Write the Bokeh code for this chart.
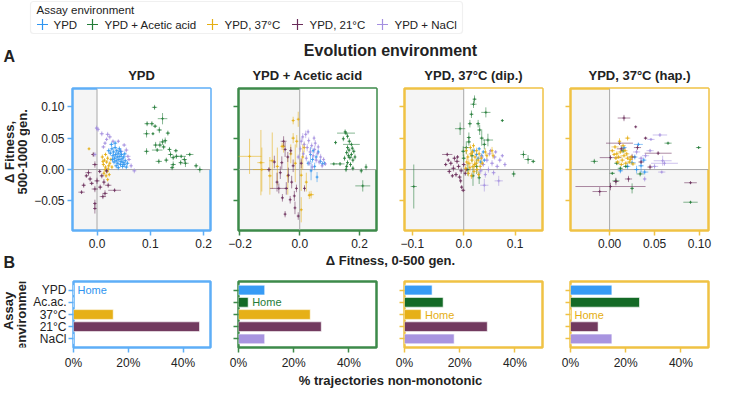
from bokeh.plotting import figure
from bokeh.models import Range1d, FixedTicker, Span, ColumnDataSource, BoxAnnotation
from bokeh.layouts import column, row
from bokeh.embed import file_html
from bokeh.resources import INLINE
from bokeh.core.properties import value
import math

FONT = "Liberation Sans"
INK = "#222222"

# ---------------- data ----------------
ASSAYS = ["YPD", "YPD + Acetic acid", "YPD, 37°C", "YPD, 21°C", "YPD + NaCl"]
ASSAY_SHORT = ["YPD", "Ac.ac.", "37°C", "21°C", "NaCl"]
PANEL_TITLES = ["YPD", "YPD + Acetic acid", "YPD, 37°C (dip.)", "YPD, 37°C (hap.)"]
HOME_INDEX = [0, 1, 2, 2]

POINT_COLORS = ["#2f95f0", "#237c38", "#e5ae12", "#6a2c5a", "#a48fe0"]
BAR_COLORS = ["#379bf5", "#146a26", "#e6b017", "#723a5f", "#a894e0"]
FRAME_COLORS = ["#5eaef7", "#3d8a4a", "#f0c244", "#f0c244"]

X_RANGES = [(-0.046, 0.213), (-0.205, 0.257), (-0.115, 0.153), (-0.0435, 0.11)]
Y_RANGE = (-0.097, 0.129)
X_TICKS = [[0, 0.1, 0.2], [-0.2, 0, 0.2], [-0.1, 0, 0.1], [0, 0.05, 0.1]]
X_TICK_LABELS = [["0.0", "0.1", "0.2"], ["\u22120.2", "0.0", "0.2"],
                 ["\u22120.1", "0.0", "0.1"], ["0.00", "0.05", "0.10"]]
Y_TICKS = [-0.05, 0, 0.05, 0.1]
Y_TICK_LABELS = ["\u22120.05", "0.00", "0.05", "0.10"]

# % trajectories non-monotonic, per evolution env, in assay-env order
NONMONO_YPD = [0, 0, 14.5, 46, 0]
NONMONO_AC = [9.5, 3.5, 26, 30, 9.5]
NONMONO_DIP = [10, 14, 6, 30, 18]
NONMONO_HAP = [15, 25, 0, 10, 15]
BAR_TICKS = [0, 20, 40]
BAR_TICK_LABELS = ["0%", "20%", "40%"]

# (dFit 0-500, dFit 500-1000, err x, err y)
P1_YPD = [(0.022, 0.030, .004, .004), (0.025, 0.026, .004, .004), (0.028, 0.033, .004, .004), (0.030, 0.022, .004, .004),
          (0.031, 0.028, .004, .004), (0.033, 0.018, .004, .004), (0.034, 0.035, .004, .004), (0.035, 0.024, .005, .004),
          (0.036, 0.014, .004, .004), (0.037, 0.030, .004, .004), (0.038, 0.020, .004, .004), (0.039, 0.010, .004, .004),
          (0.040, 0.026, .004, .004), (0.041, 0.016, .004, .004), (0.042, 0.033, .004, .004), (0.043, 0.021, .005, .004),
          (0.044, 0.008, .004, .004), (0.045, 0.013, .004, .004), (0.046, 0.024, .004, .004), (0.047, 0.017, .004, .004),
          (0.048, 0.005, .004, .004), (0.049, 0.011, .004, .004), (0.050, 0.020, .004, .004), (0.051, 0.008, .004, .004),
          (0.053, 0.014, .004, .004), (0.055, 0.004, .004, .004), (0.057, 0.010, .004, .004), (0.027, 0.040, .004, .004),
          (0.032, 0.012, .004, .004), (0.036, 0.006, .004, .004), (0.040, 0.003, .004, .004), (0.044, 0.029, .004, .004),
          (0.052, 0.025, .004, .004), (0.029, 0.016, .004, .004), (0.034, 0.042, .004, .004)]
P1_AC = [(0.108, 0.099, .005, .004), (0.123, 0.081, .009, .009), (0.094, 0.073, .005, .004), (0.103, 0.073, .004, .004),
         (0.109, 0.069, .004, .003), (0.093, 0.057, .006, .006), (0.105, 0.057, .002, .002), (0.133, 0.058, .004, .004),
         (0.117, 0.063, .005, .005), (0.123, 0.044, .006, .005), (0.118, 0.039, .004, .004), (0.125, 0.036, .004, .004),
         (0.110, 0.039, .005, .005), (0.093, 0.029, .005, .005), (0.113, 0.031, .010, .003), (0.136, 0.032, .004, .004),
         (0.138, 0.024, .005, .005), (0.143, 0.019, .004, .004), (0.149, 0.021, .005, .004), (0.158, 0.021, .009, .003),
         (0.164, 0.016, .005, .005), (0.174, 0.024, .007, .003), (0.143, 0.008, .005, .005), (0.141, 0.003, .004, .004),
         (0.166, 0.010, .006, .006), (0.186, 0.006, .004, .004), (0.193, 0.000, .005, .005), (0.116, 0.013, .006, .004),
         (0.128, 0.046, .004, .005), (0.148, 0.030, .004, .003), (0.130, 0.015, .004, .004), (0.157, 0.011, .004, .004)]
P1_37 = [(0.010, 0.020, .003, .004), (0.014, 0.015, .002, .003), (0.012, 0.008, .003, .004), (0.016, 0.004, .002, .003),
         (0.018, 0.012, .003, .003), (0.020, 0.018, .002, .004), (0.022, 0.006, .003, .003), (0.015, 0.000, .002, .004),
         (0.019, -0.003, .003, .003), (0.024, 0.010, .002, .003), (0.013, -0.006, .002, .004), (0.017, -0.010, .002, .003),
         (0.021, 0.001, .002, .003), (0.026, 0.016, .002, .003), (0.011, 0.013, .002, .003), (0.023, -0.008, .002, .003),
         (-0.015, 0.033, .002, .002), (0.016, 0.024, .003, .003), (0.028, 0.004, .002, .003), (0.020, -0.016, .002, .003)]
P1_21 = [(-0.007, 0.024, .004, .004), (-0.004, 0.008, .005, .005), (-0.016, -0.005, .006, .005), (-0.013, -0.015, .004, .004),
         (0.000, -0.018, .005, .005), (0.009, -0.010, .004, .004), (0.021, -0.025, .006, .004), (-0.025, -0.025, .004, .004),
         (-0.004, -0.031, .006, .005), (-0.029, -0.036, .006, .003), (0.015, -0.038, .005, .005), (0.033, -0.033, .012, .003),
         (0.011, -0.043, .006, .004), (-0.004, -0.054, .003, .006), (-0.004, -0.062, .003, .008), (0.005, -0.003, .003, .003),
         (-0.010, -0.022, .004, .003), (0.006, -0.028, .004, .004), (0.018, -0.002, .003, .004), (-0.020, -0.010, .003, .003),
         (0.013, -0.020, .003, .005)]
P1_NACL = [(-0.001, 0.066, .003, .004), (0.009, 0.057, .004, .004), (0.020, 0.056, .004, .004), (0.015, 0.042, .003, .003),
           (0.045, 0.029, .005, .004), (0.058, 0.021, .005, .003), (0.070, -0.002, .004, .004), (0.012, 0.036, .004, .003),
           (-0.004, 0.024, .003, .004), (0.051, 0.039, .004, .003), (0.060, 0.016, .004, .003), (0.024, 0.052, .004, .004),
           (0.018, 0.048, .003, .003), (0.002, 0.064, .003, .004), (0.030, 0.045, .003, .003), (0.055, 0.031, .004, .004),
           (0.064, 0.006, .003, .004), (0.040, 0.045, .003, .003)]

P2_YPD = [(0.036, 0.024, .004, .012), (0.043, 0.016, .005, .005), (0.038, -0.002, .003, .015), (0.069, 0.013, .004, .004),
          (0.076, 0.009, .004, .004), (0.055, 0.020, .004, .005), (0.028, 0.010, .004, .004), (0.050, 0.005, .003, .006),
          (0.062, 0.028, .004, .004), (0.045, 0.030, .004, .004), (0.083, 0.010, .004, .003), (0.058, -0.012, .003, .008)]
P2_AC = [(0.155, 0.058, .030, .003), (0.160, 0.053, .004, .004), (0.146, 0.049, .004, .004), (0.166, 0.045, .006, .005),
         (0.173, 0.040, .028, .003), (0.160, 0.035, .004, .004), (0.181, 0.029, .005, .004), (0.157, 0.027, .004, .004),
         (0.173, 0.024, .004, .004), (0.168, 0.019, .008, .004), (0.178, 0.015, .004, .004), (0.160, 0.011, .005, .004),
         (0.135, 0.009, .015, .003), (0.114, 0.009, .012, .002), (0.157, 0.005, .004, .004), (0.178, 0.002, .004, .004),
         (0.206, -0.002, .005, .004), (0.222, 0.004, .004, .005), (0.211, -0.026, .025, .009), (0.152, 0.060, .003, .004),
         (0.165, 0.031, .004, .004), (0.170, 0.008, .004, .004), (0.150, 0.018, .004, .004), (0.185, 0.020, .003, .004),
         (0.163, 0.022, .004, .004), (0.176, 0.034, .004, .004), (0.120, 0.043, .004, .003), (0.155, 0.000, .004, .004)]
P2_37 = [(-0.168, 0.021, .040, .028), (-0.127, 0.000, .030, .035), (-0.130, 0.011, .012, .052), (-0.092, 0.014, .010, .045),
         (-0.054, 0.037, .006, .010), (-0.022, 0.050, .005, .008), (-0.010, 0.045, .005, .010), (0.005, -0.009, .004, .025),
         (0.022, -0.020, .004, .015), (0.038, -0.040, .010, .006), (-0.059, 0.037, .005, .006), (-0.022, 0.078, .004, .006),
         (-0.005, 0.080, .004, .012), (0.005, -0.064, .004, .020), (0.032, -0.041, .004, .006), (-0.075, 0.005, .005, .030),
         (-0.040, -0.010, .004, .030), (-0.015, 0.010, .005, .030), (0.010, 0.020, .004, .020), (-0.100, -0.010, .006, .030),
         (-0.030, 0.025, .004, .015), (0.015, 0.035, .004, .008)]
P2_21 = [(-0.054, 0.045, .010, .008), (-0.049, 0.032, .004, .012), (-0.060, 0.011, .004, .010), (-0.103, 0.000, .006, .004),
         (-0.076, -0.020, .004, .015), (-0.070, -0.030, .030, .008), (-0.038, -0.009, .004, .012), (-0.022, 0.006, .004, .010),
         (-0.027, -0.020, .004, .010), (-0.011, -0.030, .004, .006), (-0.032, -0.048, .003, .006), (-0.016, -0.061, .003, .010),
         (-0.049, -0.071, .003, .005), (-0.005, -0.074, .003, .006), (0.016, -0.030, .004, .005), (-0.085, 0.012, .005, .010),
         (-0.040, 0.020, .004, .008), (-0.065, -0.005, .004, .010), (-0.030, 0.030, .004, .006), (-0.045, -0.030, .005, .010),
         (0.005, 0.010, .004, .008), (-0.018, -0.042, .003, .008), (-0.058, -0.045, .004, .006)]
P2_NACL = [(0.005, 0.045, .004, .006), (0.010, 0.052, .004, .006), (0.015, 0.040, .004, .005), (0.020, 0.056, .004, .006),
           (0.025, 0.035, .005, .006), (0.030, 0.046, .004, .005), (0.035, 0.028, .005, .006), (0.040, 0.038, .004, .005),
           (0.045, 0.022, .004, .005), (0.050, 0.032, .004, .006), (0.055, 0.015, .005, .005), (0.060, 0.026, .004, .005),
           (0.065, 0.012, .004, .004), (0.070, 0.020, .004, .005), (0.075, 0.006, .004, .004), (0.080, 0.016, .003, .004),
           (0.012, 0.025, .004, .005), (0.022, 0.018, .004, .005), (0.032, 0.010, .004, .004), (0.042, 0.004, .004, .005),
           (0.052, 0.042, .004, .005), (0.062, 0.036, .003, .004), (0.002, 0.033, .003, .005), (0.086, 0.009, .003, .003),
           (0.028, 0.060, .003, .004), (0.048, 0.050, .003, .004), (-0.005, 0.020, .003, .004)]

P3_YPD = [(0.020, 0.030, .003, .004), (0.025, 0.024, .003, .004), (0.030, 0.033, .003, .003), (0.035, 0.022, .003, .004),
          (0.038, 0.028, .003, .003), (0.028, 0.018, .003, .003), (0.033, 0.012, .003, .004), (0.040, 0.015, .003, .003)]
P3_AC = [(0.021, 0.112, .004, .006), (0.019, 0.104, .006, .006), (0.015, 0.088, .004, .006), (0.043, 0.091, .009, .008),
         (-0.007, 0.065, .010, .010), (0.012, 0.073, .004, .006), (0.028, 0.073, .004, .006), (0.031, 0.063, .005, .008),
         (0.047, 0.047, .010, .010), (0.010, 0.051, .004, .008), (0.010, 0.044, .004, .006), (-0.001, 0.029, .004, .008),
         (0.016, 0.022, .004, .010), (0.000, 0.018, .004, .006), (0.018, -0.010, .003, .016), (0.030, -0.013, .003, .010),
         (0.075, 0.078, .002, .002), (0.116, 0.024, .006, .006), (0.125, 0.016, .007, .007), (0.135, 0.013, .004, .003),
         (0.097, -0.007, .004, .005), (-0.097, -0.027, .006, .035), (0.035, 0.050, .004, .012), (0.005, 0.035, .006, .010),
         (0.025, 0.005, .004, .012), (0.040, 0.040, .004, .008), (0.008, 0.000, .004, .010)]
P3_37 = [(0.005, 0.030, .003, .006), (0.008, 0.020, .003, .005), (0.010, 0.010, .004, .006), (0.012, 0.003, .003, .006),
         (0.014, 0.025, .004, .005), (0.016, 0.015, .003, .006), (0.018, 0.005, .004, .005), (0.020, -0.003, .003, .005),
         (0.022, 0.020, .003, .006), (0.024, 0.010, .004, .005), (0.026, 0.000, .003, .006), (0.028, 0.015, .003, .005),
         (0.030, 0.025, .003, .005), (0.032, 0.005, .003, .005), (0.006, 0.012, .003, .006), (0.009, -0.006, .003, .005),
         (0.013, 0.035, .003, .005), (0.017, 0.028, .003, .005), (0.021, 0.008, .003, .006), (0.025, 0.030, .003, .005),
         (0.034, 0.018, .003, .005), (0.004, 0.002, .003, .006), (0.019, 0.038, .003, .004), (0.015, -0.010, .003, .005),
         (0.042, 0.028, .002, .006), (0.045, 0.022, .002, .005), (0.055, 0.030, .002, .006), (0.057, 0.022, .002, .005),
         (0.029, -0.008, .003, .005), (0.036, 0.010, .003, .004)]
P3_21 = [(-0.032, 0.024, .010, .003), (-0.013, 0.013, .005, .004), (-0.025, 0.010, .004, .004), (-0.020, 0.002, .005, .005),
         (-0.010, 0.005, .004, .004), (-0.005, -0.002, .004, .005), (-0.015, -0.008, .004, .004), (-0.028, -0.003, .004, .004),
         (0.000, 0.008, .004, .004), (-0.008, -0.012, .004, .004), (-0.004, -0.028, .003, .003), (-0.001, -0.033, .004, .003),
         (-0.018, 0.018, .004, .004), (0.003, -0.006, .003, .004), (-0.012, 0.020, .003, .003), (-0.022, -0.010, .003, .003),
         (0.005, 0.000, .003, .003), (-0.030, 0.015, .003, .003), (-0.006, -0.018, .003, .004), (-0.035, 0.008, .003, .003)]
P3_NACL = [(0.040, -0.025, .008, .010), (0.068, -0.018, .008, .008), (0.035, 0.020, .004, .005), (0.045, 0.015, .004, .004),
           (0.050, 0.025, .004, .004), (0.055, 0.010, .004, .005), (0.060, 0.020, .004, .004), (0.065, 0.005, .004, .004),
           (0.070, 0.015, .004, .004), (0.075, 0.022, .003, .003), (0.048, 0.000, .004, .005), (0.058, -0.005, .004, .004),
           (0.038, 0.008, .004, .004), (0.042, -0.008, .003, .005), (0.052, 0.030, .003, .003), (0.062, 0.028, .003, .003),
           (0.080, 0.008, .003, .004), (0.033, -0.002, .004, .005)]

P4_YPD = [(0.016, 0.035, .003, .003), (0.032, 0.040, .005, .003), (0.025, 0.011, .004, .004), (0.035, 0.006, .003, .010),
          (0.039, -0.004, .004, .004), (0.028, 0.020, .003, .004), (0.020, 0.005, .003, .005), (0.012, -0.002, .003, .004),
          (0.038, 0.015, .003, .004), (0.030, 0.000, .003, .006)]
P4_AC = [(-0.017, 0.013, .004, .004), (0.065, 0.042, .004, .002), (0.099, 0.035, .003, .002), (0.007, -0.018, .004, .004),
         (0.025, -0.030, .002, .008), (0.034, -0.007, .004, .004), (0.090, -0.052, .008, .002), (0.003, -0.006, .003, .002),
         (0.012, 0.002, .003, .003), (0.018, 0.005, .003, .003), (0.015, 0.030, .003, .004), (0.008, 0.010, .003, .003)]
P4_37 = [(0.003, 0.030, .003, .003), (0.006, 0.036, .004, .003), (0.008, 0.025, .003, .004), (0.010, 0.020, .004, .003),
         (0.012, 0.028, .003, .003), (0.014, 0.015, .003, .004), (0.016, 0.022, .004, .003), (0.018, 0.010, .003, .003),
         (0.020, 0.050, .003, .004), (0.020, 0.018, .003, .003), (0.022, 0.012, .003, .003), (0.024, 0.020, .003, .003),
         (0.011, 0.045, .002, .005), (0.013, 0.008, .003, .003), (0.017, 0.030, .003, .003), (0.009, 0.012, .003, .003),
         (0.026, 0.009, .003, .003), (0.015, 0.038, .003, .003), (0.007, 0.018, .002, .003), (0.019, 0.025, .003, .003),
         (0.005, 0.024, .002, .003), (0.023, 0.016, .003, .003)]
P4_21 = [(0.016, 0.082, .007, .005), (0.029, 0.068, .001, .001), (0.011, 0.042, .015, .003), (0.013, 0.033, .005, .005),
         (0.054, 0.026, .015, .003), (0.001, 0.019, .012, .004), (0.045, 0.004, .003, .004), (0.021, -0.015, .004, .005),
         (0.007, -0.019, .003, .006), (0.001, -0.027, .039, .006), (-0.011, -0.035, .008, .007), (0.090, -0.021, .007, .002),
         (0.031, 0.035, .004, .004), (0.040, 0.050, .002, .002), (0.025, 0.020, .004, .005), (0.035, 0.012, .003, .003)]
P4_NACL = [(0.056, 0.055, .008, .003), (0.046, 0.048, .004, .002), (0.059, 0.014, .010, .008), (0.061, 0.010, .015, .004),
           (0.039, -0.015, .002, .004), (0.030, 0.028, .004, .004), (0.058, -0.004, .004, .002), (0.040, 0.022, .004, .004),
           (0.050, 0.005, .004, .004), (0.035, 0.018, .003, .003), (0.045, 0.030, .004, .003)]

PANEL_POINTS = [[P1_YPD, P1_AC, P1_37, P1_21, P1_NACL],
                [P2_YPD, P2_AC, P2_37, P2_21, P2_NACL],
                [P3_YPD, P3_AC, P3_37, P3_21, P3_NACL],
                [P4_YPD, P4_AC, P4_37, P4_21, P4_NACL]]
PANEL_BARS = [NONMONO_YPD, NONMONO_AC, NONMONO_DIP, NONMONO_HAP]

# ---------------- layout constants (pixels) ----------------
TOTAL_W = 715
FRAME_W = 138
YT_W = 30                      # strip holding rotated y titles
LEFTS = [42, 14, 14, 14]
RIGHTS = [14, 14, 14, 7]
FRAME_X = [72, 238, 404, 570]
HEADER_H = 84
SC_H, SC_TOP, SC_BOT = 168, 4, 22
XT_H = 20
BAR_H, BAR_TOP, BAR_BOT = 100, 9, 20
BOT_H = 16


def base_fig(w, h, xr, yr, left=0, right=0, top=0, bottom=0):
    p = figure(width=w, height=h, x_range=xr, y_range=yr, output_backend="svg",
               toolbar_location=None, min_border_left=left, min_border_right=right,
               min_border_top=top, min_border_bottom=bottom)
    p.grid.visible = False
    p.border_fill_color = "white"
    return p


def text_strip(w, h):
    p = base_fig(w, h, Range1d(0, w), Range1d(h, 0))
    p.axis.visible = False
    p.outline_line_color = None
    p.background_fill_color = "white"
    return p


def style_axis(ax, color):
    ax.axis_line_color = None
    ax.major_tick_line_color = color
    ax.major_tick_line_width = 1.5
    ax.major_tick_out = 5
    ax.major_tick_in = 0
    ax.minor_tick_line_color = None
    ax.major_label_text_font = FONT
    ax.major_label_text_font_size = "12px"
    ax.major_label_text_color = INK
    ax.major_label_standoff = 3


def add_points(p, pts, color):
    src = ColumnDataSource(dict(
        x=[t[0] for t in pts], y=[t[1] for t in pts],
        xl=[t[0] - t[2] for t in pts], xr=[t[0] + t[2] for t in pts],
        yb=[t[1] - t[3] for t in pts], yt=[t[1] + t[3] for t in pts]))
    p.segment(x0="xl", y0="y", x1="xr", y1="y", source=src, line_color=color,
              line_width=1.0, line_alpha=0.55)
    p.segment(x0="x", y0="yb", x1="x", y1="yt", source=src, line_color=color,
              line_width=1.0, line_alpha=0.55)
    p.scatter(x="x", y="y", source=src, marker="cross", size=3, line_color=color,
              line_width=1.0, line_alpha=0.7)


def bold_text(p, x, y, t, size="13px", align="center", angle=0.0):
    p.text(x=[x], y=[y], text=[t], text_font=value(FONT), text_font_size=size,
           text_font_style="bold", text_color=INK, text_align=align,
           text_baseline="middle", angle=angle)


# ---------------- header ----------------
header = text_strip(TOTAL_W, HEADER_H)
header.add_layout(BoxAnnotation(left=30, right=462, top=1, bottom=33, fill_color="white",
                                fill_alpha=1, line_color="#cccccc", line_width=1.2,
                                border_radius=3, level="underlay"))
header.text(x=[36], y=[9.5], text=["Assay environment"], text_font=value(FONT),
            text_font_size="11.5px", text_color=INK, text_baseline="middle")
LEG_CROSS_X = [42, 92, 212, 297, 382]
LEG_TEXT_X = [53, 104, 224, 309, 394]
header.scatter(x=LEG_CROSS_X, y=[24] * 5, marker="cross", size=11, line_width=1.2,
               line_color=POINT_COLORS)
header.text(x=LEG_TEXT_X, y=[24] * 5, text=ASSAYS, text_font=value(FONT),
            text_font_size="11.5px", text_color=INK, text_baseline="middle")
bold_text(header, 390, 50, "Evolution environment", size="16px")
bold_text(header, 3, 56, "A", size="16px", align="left")
for i in range(4):
    bold_text(header, FRAME_X[i] + FRAME_W / 2, 75, PANEL_TITLES[i])

# ---------------- scatter row ----------------
sc_frame_mid = SC_TOP + (SC_H - SC_TOP - SC_BOT) / 2
ytitle_a = text_strip(YT_W, SC_H)
bold_text(ytitle_a, 9, sc_frame_mid, "\u0394 Fitness,", angle=math.pi / 2)
bold_text(ytitle_a, 22, sc_frame_mid, "500-1000 gen.", angle=math.pi / 2)

scatter_figs = [ytitle_a]
for i in range(4):
    w = LEFTS[i] + FRAME_W + RIGHTS[i]
    p = base_fig(w, SC_H, Range1d(*X_RANGES[i]), Range1d(*Y_RANGE),
                 LEFTS[i], RIGHTS[i], SC_TOP, SC_BOT)
    p.background_fill_color = "#f5f5f5"
    p.outline_line_color = FRAME_COLORS[i]
    p.outline_line_width = 2.5
    p.add_layout(BoxAnnotation(left=0, bottom=0, fill_color="white", fill_alpha=1,
                               line_color=None, level="underlay"))
    p.add_layout(Span(location=0, dimension="height", line_color="#a8a8a8",
                      line_width=1, level="underlay"))
    p.add_layout(Span(location=0, dimension="width", line_color="#a8a8a8",
                      line_width=1, level="underlay"))
    style_axis(p.xaxis[0], FRAME_COLORS[i])
    style_axis(p.yaxis[0], FRAME_COLORS[i])
    p.xaxis.ticker = FixedTicker(ticks=X_TICKS[i])
    p.xaxis.major_label_overrides = dict(zip(X_TICKS[i], X_TICK_LABELS[i]))
    p.yaxis.ticker = FixedTicker(ticks=Y_TICKS)
    if i == 0:
        p.yaxis.major_label_overrides = dict(zip(Y_TICKS, Y_TICK_LABELS))
    else:
        p.yaxis.major_label_overrides = {t: "" for t in Y_TICKS}
    home = HOME_INDEX[i]
    order = [k for k in range(5) if k != home] + [home]
    for k in order:
        add_points(p, PANEL_POINTS[i][k], POINT_COLORS[k])
    scatter_figs.append(p)

# ---------------- x title strip ----------------
xt = text_strip(TOTAL_W, XT_H)
bold_text(xt, 390, 8, "\u0394 Fitness, 0-500 gen.")
bold_text(xt, 3, 10, "B", size="16px", align="left")

# ---------------- bar row ----------------
bar_frame_mid = BAR_TOP + (BAR_H - BAR_TOP - BAR_BOT) / 2
ytitle_b = text_strip(YT_W, BAR_H)
bold_text(ytitle_b, 8, bar_frame_mid, "Assay", angle=math.pi / 2)
bold_text(ytitle_b, 21, bar_frame_mid, "environment", angle=math.pi / 2)

bar_figs = [ytitle_b]
CAT_POS = [4, 3, 2, 1, 0]
for i in range(4):
    w = LEFTS[i] + FRAME_W + RIGHTS[i]
    p = base_fig(w, BAR_H, Range1d(0, 50), Range1d(-0.7, 4.7),
                 LEFTS[i], RIGHTS[i], BAR_TOP, BAR_BOT)
    p.background_fill_color = "white"
    p.outline_line_color = FRAME_COLORS[i]
    p.outline_line_width = 2.5
    style_axis(p.xaxis[0], FRAME_COLORS[i])
    style_axis(p.yaxis[0], FRAME_COLORS[i])
    p.yaxis.major_label_standoff = 2
    p.xaxis.ticker = FixedTicker(ticks=BAR_TICKS)
    p.xaxis.major_label_overrides = dict(zip(BAR_TICKS, BAR_TICK_LABELS))
    p.yaxis.ticker = FixedTicker(ticks=CAT_POS)
    if i == 0:
        p.yaxis.major_label_overrides = dict(zip(CAT_POS, ASSAY_SHORT))
    else:
        p.yaxis.major_label_overrides = {c: "" for c in CAT_POS}
    vals = PANEL_BARS[i]
    p.hbar(y=CAT_POS, left=0, right=vals, height=0.8, fill_color=BAR_COLORS,
           line_color="white", line_width=1, line_alpha=0.6)
    home = HOME_INDEX[i]
    p.text(x=[vals[home]], y=[CAT_POS[home]], text=["Home"], x_offset=4,
           text_font=value(FONT), text_font_size="11px", text_color=POINT_COLORS[home],
           text_baseline="middle")
    bar_figs.append(p)

bottom = text_strip(TOTAL_W, BOT_H)
bold_text(bottom, 390, 8, "% trajectories non-monotonic")

layout = column(header, row(*scatter_figs), xt, row(*bar_figs), bottom)
open("out.html", "w").write(file_html(layout, INLINE))
